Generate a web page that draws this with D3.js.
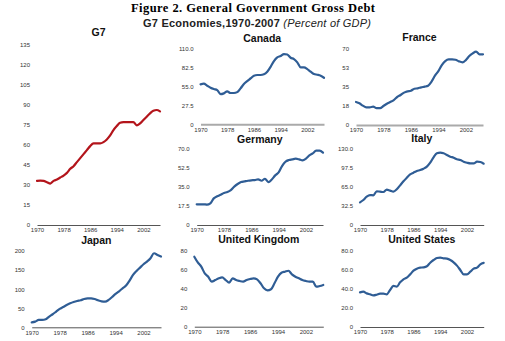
<!DOCTYPE html>
<html>
<head>
<meta charset="utf-8">
<script src="https://cdn.jsdelivr.net/npm/d3@7"></script>
<style>
  body { margin: 0; background: #fff; }
  svg { display: block; }
  .tick text { font-family: "Liberation Sans", Arial, sans-serif; font-size: 6px; fill: #333; }
</style>
</head>
<body>
<script>
// years on the x axis
var years = d3.range(1970, 2008);
var xTicks = [1970, 1978, 1986, 1994, 2002];

// gross debt, percent of GDP
var g7 = [33, 33.2, 33, 32, 31, 33, 34, 35.5, 37, 39, 42, 44, 47, 50, 53, 56, 59, 61, 61, 61,
  62, 64, 67, 71, 74, 76.5, 77, 77, 77, 77, 74.5, 76, 78.5, 81, 83.5, 85.5, 86, 85];
var canada = [58.4, 59.3, 56.4, 53.5, 51.5, 50, 44, 45.2, 48, 45.7, 45.7, 47, 52.5, 58.8, 63, 67, 71, 72, 72, 73,
  76.8, 84, 92.4, 97.8, 99.7, 102.6, 102, 97.2, 95.3, 90.5, 83.2, 83.2, 80.7, 76.8, 73.4, 72.4, 71, 68];
var france = [21.2, 20, 17.8, 16.3, 16.3, 16.9, 15.6, 15.6, 17.5, 19.6, 21.2, 23, 25.8, 27.6, 29.8, 31, 31.6, 33.4, 33.8, 34.7,
  35.3, 36.2, 39.9, 45.4, 49.7, 55.2, 58.9, 60.5, 60.5, 60.1, 58.6, 57.7, 59.8, 63.5, 66, 67.5, 65.1, 65.1];
var germany = [18.9, 18.9, 18.9, 18.6, 19.8, 24.3, 26.2, 27.6, 29.2, 30.1, 31.9, 35, 37.4, 39.2, 39.8, 40.4, 40.8, 41, 41.6, 40.4,
  42.2, 39.2, 41.6, 45.3, 48, 53.8, 57.7, 59.3, 59.9, 60.5, 59.9, 58.9, 60.5, 63.5, 65.3, 67.8, 67.8, 66];
var italy = [38.4, 42.4, 48, 50.8, 50.3, 57.1, 56.5, 55.9, 59.9, 58.2, 56.5, 60.5, 67.2, 74, 80.2, 85.9, 88.7, 91.5, 93.2, 95.5,
  98.9, 105.6, 114.7, 121.5, 122.6, 121.5, 118.6, 115.8, 114.1, 111.3, 110.2, 107.3, 105.6, 104.5, 104.5, 107.3, 106.7, 103.9];
var japan = [13.1, 14.9, 19.3, 19.3, 21, 28, 34.2, 41.2, 48.2, 53.2, 58.4, 62.9, 66.4, 69, 70.8, 74.3, 76, 76, 74.3, 70.8,
  68.1, 67.3, 71.7, 79.5, 87.4, 94.4, 102.3, 109.3, 122.4, 137.3, 147.8, 156.5, 165.3, 172.3, 181, 194.1, 189.8, 185.4];
var uk = [73.7, 67.7, 63.2, 56.2, 52.6, 47.4, 49.1, 50.9, 51.9, 49.1, 46.4, 50.9, 49.1, 48.1, 47.4, 49.1, 50.2, 50.9, 49.8, 45.7,
  40.4, 38.3, 39.4, 45.7, 52.6, 56.8, 57.9, 58.9, 55.1, 52.6, 50.9, 49.1, 48.1, 47.4, 47.4, 42.1, 42.8, 43.9];
var us = [36.5, 37.2, 35.4, 34.4, 33.3, 34, 35.1, 35.1, 34.4, 38.9, 43.2, 42.5, 47, 50.2, 51.9, 55.4, 59.3, 61.4, 62.5, 62.8,
  63.9, 67.7, 70.5, 72.6, 73, 72.3, 71.9, 70.5, 68.1, 64.6, 60, 55.4, 55.4, 58.2, 61.4, 62.5, 66, 67.5];

// y tick values and their printed labels
var g7Ticks = [0, 15, 30, 45, 60, 75, 90, 105, 120, 135];
var canadaTicks = [0, 27.5, 55, 82.5, 110];
var canadaLabels = ["0", "27.5", "55.0", "82.5", "110.0"];
var franceTicks = [0, 17.5, 35, 52.5, 70];
var franceLabels = ["0", "18", "35", "53", "70"];
var germanyTicks = [0, 17.5, 35, 52.5, 70];
var germanyLabels = ["0", "17.5", "35.0", "52.5", "70.0"];
var italyTicks = [0, 32.5, 65, 97.5, 130];
var italyLabels = ["0", "32.5", "65.0", "97.5", "130.0"];
var japanTicks = [0, 50, 100, 150, 200];
var ukTicks = [0, 20, 40, 60, 80];
var usTicks = [0, 20, 40, 60, 80];
var usLabels = ["0", "20.0", "40.0", "60.0", "80.0"];

var w = 505, h = 341;
var red = "#b3141b", blue = "#2f5d95";

var svg = d3.select("body").append("svg")
  .attr("width", w)
  .attr("height", h);

svg.append("text")
  .attr("x", 253)
  .attr("y", 12)
  .attr("text-anchor", "middle")
  .attr("font-family", "'Liberation Serif', 'Times New Roman', serif")
  .attr("font-weight", "bold")
  .attr("font-size", 12.5)
  .attr("textLength", 244)
  .text("Figure 2. General Government Gross Debt");

var sub = svg.append("text")
  .attr("x", 257)
  .attr("y", 27)
  .attr("text-anchor", "middle")
  .attr("font-family", "'Liberation Sans', Arial, sans-serif")
  .attr("font-size", 11)
  .attr("textLength", 228)
  .attr("fill", "#222");
sub.append("tspan").attr("font-weight", "bold").text("G7 Economies,1970-2007 ");
sub.append("tspan").attr("font-style", "italic").text("(Percent of GDP)");

// one small chart per economy; x0/x1 = plot width, y0/y1 = plot height
var panels = [
  { name: "G7", values: g7, ticks: g7Ticks, max: 135, color: red, x0: 37, x1: 160, y0: 225, y1: 44.5, ty: 36, axis: "#555", aw: 1 },
  { name: "Canada", values: canada, ticks: canadaTicks, labels: canadaLabels, max: 110, color: blue, x0: 200.5, x1: 324, y0: 124.3, y1: 49, ty: 41.5, axis: "#aaa", aw: 2 },
  { name: "France", values: france, ticks: franceTicks, labels: franceLabels, max: 70, color: blue, x0: 356, x1: 483, y0: 125, y1: 49, ty: 41, axis: "#aaa", aw: 2 },
  { name: "Germany", values: germany, ticks: germanyTicks, labels: germanyLabels, max: 70, color: blue, x0: 196.7, x1: 323, y0: 225, y1: 148.3, ty: 142.5, axis: "#555", aw: 1 },
  { name: "Italy", values: italy, ticks: italyTicks, labels: italyLabels, max: 130, color: blue, x0: 360, x1: 483.7, y0: 225, y1: 148.3, ty: 142, axis: "#555", aw: 1 },
  { name: "Japan", values: japan, ticks: japanTicks, max: 200, color: blue, x0: 31.7, x1: 161, y0: 327.3, y1: 251, ty: 244, axis: "#555", aw: 1 },
  { name: "United Kingdom", values: uk, ticks: ukTicks, max: 80, color: blue, x0: 194.3, x1: 323.3, y0: 326.7, y1: 250.7, ty: 243, axis: "#555", aw: 1 },
  { name: "United States", values: us, ticks: usTicks, labels: usLabels, max: 80, color: blue, x0: 360, x1: 483.7, y0: 327, y1: 251, ty: 243, axis: "#555", aw: 1 }
];

panels.forEach(function (p) {
  var x = d3.scaleLinear().domain([1970, 2007]).range([p.x0, p.x1]);
  var y = d3.scaleLinear().domain([0, p.max]).range([p.y0, p.y1]);
  var g = svg.append("g");

  // title
  g.append("text")
    .attr("x", (p.x0 + p.x1) / 2)
    .attr("y", p.ty)
    .attr("text-anchor", "middle")
    .attr("font-family", "'Liberation Sans', Arial, sans-serif")
    .attr("font-weight", "bold")
    .attr("font-size", 10.5)
    .attr("fill", "#111")
    .text(p.name);

  // y labels only, no axis line
  var yAxis = d3.axisLeft(y)
    .tickValues(p.ticks)
    .tickSize(0)
    .tickPadding(7)
    .tickFormat(function (d, i) { return p.labels ? p.labels[i] : d; });
  var gy = g.append("g").attr("transform", "translate(" + p.x0 + ",0)").call(yAxis);
  gy.select(".domain").remove();

  var xAxis = d3.axisBottom(x)
    .tickValues(xTicks)
    .tickSize(0)
    .tickSizeOuter(0)
    .tickPadding(3)
    .tickFormat(d3.format("d"));
  var gx = g.append("g").attr("transform", "translate(0," + p.y0 + ")").call(xAxis);
  gx.select(".domain").attr("stroke", p.axis).attr("stroke-width", p.aw);

  var line = d3.line()
    .x(function (d, i) { return x(years[i]); })
    .y(function (d) { return y(d); })
    .curve(d3.curveMonotoneX);

  g.append("path")
    .datum(p.values)
    .attr("fill", "none")
    .attr("stroke", p.color)
    .attr("stroke-width", 2.2)
    .attr("stroke-linejoin", "round")
    .attr("stroke-linecap", "round")
    .attr("d", line);
});
</script>
</body>
</html>
